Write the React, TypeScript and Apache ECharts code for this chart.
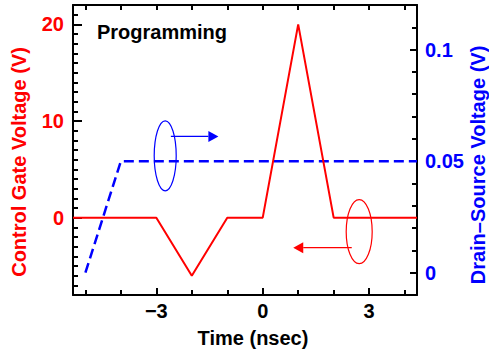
import React, { useEffect, useRef } from "react";
import * as echarts from "echarts";

// Axis ranges
const timeRange = [-5.35, 4.35];
const gateRange = [-8, 22];
const drainRange = [-0.01, 0.12];

// Control gate pulse (left axis, V)
const gateTime = [-5.35, -3, -2, -1, 0, 1, 2, 4.35];
const gateVolt = [0, 0, -6, 0, 0, 20, 0, 0];

// Drain-source bias (right axis, V)
const drainTime = [-5, -4, 4.35];
const drainVolt = [0, 0.05, 0.05];

// Ticks and labels
const timeTicks = [-5, -4, -3, -2, -1, 0, 1, 2, 3, 4];
const timeLabels = [-3, 0, 3];
const gateLabels = [0, 10, 20];
const gateMinorTicks = [
  -7, -6, -5, -4, -3, -2, -1, 1, 2, 3, 4, 5, 6, 7, 8, 9, 11, 12, 13, 14, 15, 16, 17, 18, 19, 21,
];
const drainLabels = [0, 0.05, 0.1];
const drainMinorTicks = [0.01, 0.02, 0.03, 0.04, 0.06, 0.07, 0.08, 0.09, 0.11];

const RED = "#ff0000";
const BLUE = "#0000ff";
const FONT = "'Liberation Sans', Arial, sans-serif";

const fmtMinus = (v: number) => (v < 0 ? "\u2212" + Math.abs(v) : String(v));

export default function App() {
  const ref = useRef<HTMLDivElement>(null);

  useEffect(() => {
    if (!ref.current) return;
    const chart = echarts.init(ref.current, undefined, { renderer: "svg" });

    const frameLine = { show: true, onZero: false, lineStyle: { color: "#000", width: 2 } };
    const labelStyle = { fontFamily: FONT, fontWeight: "bold" as const, fontSize: 20 };

    chart.setOption({
      animation: false,
      backgroundColor: "#fff",
      grid: { left: 73, right: 72, top: 5, bottom: 59, containLabel: false },
      xAxis: [
        {
          type: "value",
          position: "bottom",
          min: timeRange[0],
          max: timeRange[1],
          axisLine: frameLine,
          axisTick: { show: true, inside: true, length: 7, lineStyle: { color: "#000", width: 2 }, customValues: timeLabels },
          axisLabel: { ...labelStyle, color: "#000", margin: 6, customValues: timeLabels, formatter: fmtMinus },
          splitLine: { show: false },
        },
        {
          type: "value",
          position: "bottom",
          min: timeRange[0],
          max: timeRange[1],
          axisLine: { show: false, onZero: false },
          axisTick: { show: true, inside: true, length: 5, lineStyle: { color: "#000", width: 2 }, customValues: timeTicks },
          axisLabel: { show: false },
          splitLine: { show: false },
        },
        {
          type: "value",
          position: "top",
          min: timeRange[0],
          max: timeRange[1],
          axisLine: frameLine,
          axisTick: { show: true, inside: true, length: 5, lineStyle: { color: "#000", width: 2 }, customValues: timeTicks },
          axisLabel: { show: false },
          splitLine: { show: false },
        },
      ],
      yAxis: [
        {
          type: "value",
          position: "left",
          min: gateRange[0],
          max: gateRange[1],
          axisLine: frameLine,
          axisTick: { show: true, inside: true, length: 9, lineStyle: { color: "#000", width: 2 }, customValues: gateLabels },
          axisLabel: { ...labelStyle, color: RED, margin: 9, customValues: gateLabels },
          splitLine: { show: false },
        },
        {
          type: "value",
          position: "left",
          min: gateRange[0],
          max: gateRange[1],
          axisLine: { show: false, onZero: false },
          axisTick: { show: true, inside: true, length: 5, lineStyle: { color: "#000", width: 2 }, customValues: gateMinorTicks },
          axisLabel: { show: false },
          splitLine: { show: false },
        },
        {
          type: "value",
          position: "right",
          min: drainRange[0],
          max: drainRange[1],
          axisLine: frameLine,
          axisTick: { show: true, inside: true, length: 7, lineStyle: { color: "#000", width: 2 }, customValues: drainLabels },
          axisLabel: { ...labelStyle, color: BLUE, margin: 8, customValues: drainLabels },
          splitLine: { show: false },
        },
        {
          type: "value",
          position: "right",
          min: drainRange[0],
          max: drainRange[1],
          axisLine: { show: false, onZero: false },
          axisTick: { show: true, inside: true, length: 5, lineStyle: { color: "#000", width: 2 }, customValues: drainMinorTicks },
          axisLabel: { show: false },
          splitLine: { show: false },
        },
      ],
      series: [
        {
          name: "Control Gate Voltage",
          type: "line",
          xAxisIndex: 0,
          yAxisIndex: 0,
          data: gateTime.map((t, i) => [t, gateVolt[i]]),
          showSymbol: false,
          lineStyle: { color: RED, width: 2 },
          z: 3,
        },
        {
          name: "Drain-Source Voltage",
          type: "line",
          xAxisIndex: 0,
          yAxisIndex: 2,
          data: drainTime.map((t, i) => [t, drainVolt[i]]),
          showSymbol: false,
          lineStyle: { color: BLUE, width: 2.5, type: [10, 5] },
          z: 2,
        },
      ],
    });

    // Annotations placed in data space of the gate axis
    const px = (x: number, y: number) =>
      chart.convertToPixel({ xAxisIndex: 0, yAxisIndex: 0 }, [x, y]) as number[];

    const arrow = (from: number[], to: number[], color: string) => {
      const dir = Math.sign(to[0] - from[0]);
      const baseX = to[0] - dir * 10;
      return [
        {
          type: "line",
          shape: { x1: from[0], y1: from[1], x2: baseX, y2: to[1] },
          style: { stroke: color, lineWidth: 1.2 },
        },
        {
          type: "polygon",
          shape: { points: [[to[0], to[1]], [baseX, to[1] - 5.5], [baseX, to[1] + 5.5]] },
          style: { fill: color },
        },
      ];
    };

    const bc = px(-2.75, 6.4);
    const ba0 = px(-2.59, 8.4);
    const ba1 = px(-1.25, 8.4);
    const rc = px(2.72, -1.45);
    const ra0 = px(2.51, -3.1);
    const ra1 = px(0.86, -3.1);

    chart.setOption({
      graphic: [
        {
          type: "ellipse",
          shape: { cx: bc[0], cy: bc[1], rx: 11, ry: 35 },
          style: { fill: "none", stroke: BLUE, lineWidth: 1.2 },
        },
        ...arrow(ba0, ba1, BLUE),
        {
          type: "ellipse",
          shape: { cx: rc[0], cy: rc[1], rx: 13, ry: 32 },
          style: { fill: "none", stroke: RED, lineWidth: 1.2 },
        },
        ...arrow(ra0, ra1, RED),
        {
          type: "text",
          x: 97,
          y: 32,
          style: {
            text: "Programming",
            font: `bold 20px ${FONT}`,
            fill: "#000",
            textAlign: "left",
            textVerticalAlign: "middle",
          },
        },
        {
          type: "text",
          x: 19,
          y: 162,
          rotation: Math.PI / 2,
          style: {
            text: "Control Gate Voltage (V)",
            font: `bold 20px ${FONT}`,
            fill: RED,
            textAlign: "center",
            textVerticalAlign: "middle",
          },
        },
        {
          type: "text",
          x: 478,
          y: 165,
          rotation: Math.PI / 2,
          style: {
            text: "Drain\u2013Source Voltage (V)",
            font: `bold 20px ${FONT}`,
            fill: BLUE,
            textAlign: "center",
            textVerticalAlign: "middle",
          },
        },
        {
          type: "text",
          x: 253,
          y: 338,
          style: {
            text: "Time (nsec)",
            font: `bold 20px ${FONT}`,
            fill: "#000",
            textAlign: "center",
            textVerticalAlign: "middle",
          },
        },
      ],
    });

    return () => chart.dispose();
  }, []);

  return <div ref={ref} style={{ width: 489, height: 354, position: "absolute", left: 0, top: 0 }} />;
}
